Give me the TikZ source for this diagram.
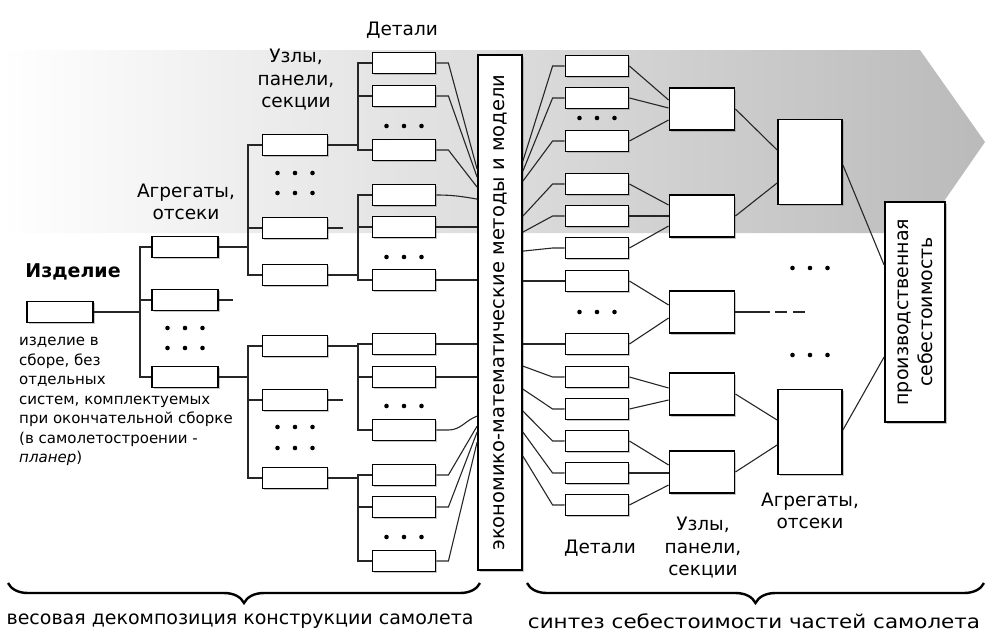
\documentclass[tikz,border=0pt]{standalone}
\usepackage{fontspec}
\setmainfont{DejaVu Sans}
\usetikzlibrary{shadows,calc,decorations.pathreplacing}

\tikzset{
  part/.style={draw,line width=1.8pt,fill=white,inner sep=0pt,minimum width=63pt,minimum height=21pt,
    drop shadow={shadow xshift=1.6pt,shadow yshift=-1.6pt,opacity=0.45}},
  unit/.style={part,minimum width=65pt,minimum height=42pt},
  aggr/.style={part,minimum width=64pt,minimum height=85pt},
  tallbox/.style={part,minimum width=44pt,minimum height=515pt},
  link/.style={line width=1.1pt,draw=black!85},
  lbl/.style={align=center,font=\fontsize{18.5}{22.5}\selectfont},
  sumtext/.style={font=\fontsize{19}{22}\selectfont},
  curly/.style={decorate,decoration={brace,mirror,amplitude=20pt},line width=2.4pt}
}
\newcommand\threedots[2]{\foreach \dx in {-17.5,0,17.5} \fill (#1+\dx,#2) circle (2.3);}

\begin{document}
\begin{tikzpicture}[x=1pt,y=-1pt]
\useasboundingbox (0,0) rectangle (986,641);
\shade[left color=white,right color=black!27] (0,50) -- (920,50) -- (985,142) -- (922,233) -- (0,233) -- cycle;

\node[part,minimum width=66pt] (prod) at (60,312) {};
\node[font=\fontsize{19}{19}\selectfont\bfseries] (prodname) at (73,272) {Изделие};
\node[anchor=north west,align=left,inner sep=0pt,font=\fontsize{15}{19.5}\selectfont] (proddesc) at (19,337)
  {изделие в\\сборе, без\\отдельных\\систем, комплектуемых\\при окончательной сборке\\(в самолетостроении -\\\textit{планер})};

\foreach \y [count=\i] in {247,300,377} \node[part,minimum width=66pt] (a\i) at (185,\y) {};
\foreach \y [count=\i] in {145,228,275,346,400,478} \node[part,minimum width=65pt] (u\i) at (295,\y) {};
\foreach \y [count=\i] in {63,96,150,195,227,280,344,377,430,475,507,561} \node[part] (d\i) at (404,\y) {};
\node[tallbox] (m) at (500,312.5) {};
\node[rotate=90,font=\fontsize{19.5}{20}\selectfont] (mtext) at (m.center) {экономико-математические методы и модели};
\foreach \y [count=\i] in {66,98,141,184,216,248,281,344,377,409,441,473,505} \node[part] (e\i) at (597,\y) {};
\foreach \y [count=\i] in {109,216,312,394,472} \node[unit] (n\i) at (702,\y) {};
\node[aggr] (g1) at (810,162) {};
\node[aggr] (g2) at (810,432) {};
\node[part,minimum width=60pt,minimum height=220pt] (cost) at (915,312) {};
\node[rotate=90,align=center,font=\fontsize{19}{24}\selectfont] (costtext) at (cost.center) {производственная\\себестоимость};

\node[lbl] (t1) at (402,30) {Детали};
\node[lbl] (t2) at (296,80) {Узлы,\\панели,\\секции};
\node[lbl] (t3) at (186,202) {Агрегаты,\\отсеки};
\node[lbl] (t4) at (600,548) {Детали};
\node[lbl] (t5) at (703,548) {Узлы,\\панели,\\секции};
\node[lbl] (t6) at (810,511) {Агрегаты,\\отсеки};

\coordinate (busA) at (140,0);
\coordinate (busB) at (248,0);
\coordinate (busC) at (358,0);

\draw[link] (prod.east) -- (prod.east -| busA);
\draw[link] (a1.west) -- (a1.west -| busA) -- (a3.west -| busA) -- (a3.west);
\draw[link] (a2.west) -- (a2.west -| busA);
\draw[link] (a2.east) -- ++(14,0);
\draw[link] (a1.east) -- (a1.east -| busB);
\draw[link] (a3.east) -- (a3.east -| busB);
\draw[link] (u1.west) -- (u1.west -| busB) -- (u3.west -| busB) -- (u3.west);
\draw[link] (u4.west) -- (u4.west -| busB) -- (u6.west -| busB) -- (u6.west);
\draw[link] (u2.west) -- (u2.west -| busB);
\draw[link] (u5.west) -- (u5.west -| busB);
\draw[link] (u2.east) -- ++(15,0);
\draw[link] (u5.east) -- ++(15,0);
\foreach \s/\a/\b/\c in {1/1/2/3,3/4/5/6,4/7/8/9,6/10/11/12}{
  \draw[link] (u\s.east) -- (u\s.east -| busC);
  \draw[link] (d\a.west) -- (d\a.west -| busC) -- (d\c.west -| busC) -- (d\c.west);
  \draw[link] (d\b.west) -- (d\b.west -| busC);
}

\foreach \i/\t in {1/115,2/123,3/133,10/372,11/378,12/388}
  \draw[link] (d\i.east) -- ++(12,0) -- ($(m.north west)+(0,\t)$);
\draw[link] (d4.east) to[out=0,in=170] ($(m.north west)+(0,145)$);
\draw[link] (d9.east) -- ++(12,0) to[out=0,in=200] ($(m.north west)+(0,362)$);
\foreach \i in {5,6,7,8} \draw[link] (d\i.east) -- (d\i.east -| m.west);

\foreach \i/\t in {1/107,2/117,3/127,4/162,5/178,6/197,9/312,10/335,11/357,12/378,13/402}
  \draw[link] ($(m.north east)+(0,\t)$) -- ($(e\i.west)+(-12,0)$) -- (e\i.west);
\foreach \i in {7,8} \draw[link] (e\i.west -| m.east) -- (e\i.west);

\foreach \i/\n/\t in {1/1/-9,2/1/-1,3/1/11,4/2/-11,5/2/0,6/2/10,7/3/-7,8/3/6,9/4/-6,10/4/6,11/5/-7,12/5/1,13/5/13}
  \draw[link] (e\i.east) -- ($(n\n.west)+(0,\t)$);

\draw[link] (n1.east) -- ($(g1.west)+(0,-12)$);
\draw[link] (n2.east) -- ($(g1.west)+(0,21)$);
\draw[link] (n4.east) -- ($(g2.west)+(0,-12)$);
\draw[link] (n5.east) -- ($(g2.west)+(0,13)$);
\coordinate (n3end) at (807,312);
\draw[link] (n3.east) -- ++(35,0) coordinate (n3mid);
\draw[link,dash pattern=on 12pt off 6pt] ($(n3mid)+(5,0)$) -- (n3end);
\draw[link] ($(g1.east)+(0,3)$) -- ($(cost.west)+(0,-47)$);
\draw[link] ($(g2.east)+(0,-2)$) -- ($(cost.west)+(0,45)$);

\threedots{185}{328} \threedots{185}{348}
\threedots{295}{173} \threedots{295}{193}
\threedots{295}{427} \threedots{295}{448}
\threedots{404}{126} \threedots{404}{257} \threedots{404}{406} \threedots{404}{537}
\threedots{597}{118} \threedots{597}{312}
\threedots{810}{268} \threedots{810}{355}

\coordinate (bl1) at (8,583);
\coordinate (bl2) at (480,583);
\coordinate (br1) at (527,583);
\coordinate (br2) at (984,583);
\draw[curly] (bl1) -- (bl2);
\draw[curly] (br1) -- (br2);
\node[sumtext] (lsum) at (240,621) {весовая декомпозиция конструкции самолета};
\node[sumtext,xscale=1.13] (rsum) at (754,621) {синтез себестоимости частей самолета};
\end{tikzpicture}
\end{document}
